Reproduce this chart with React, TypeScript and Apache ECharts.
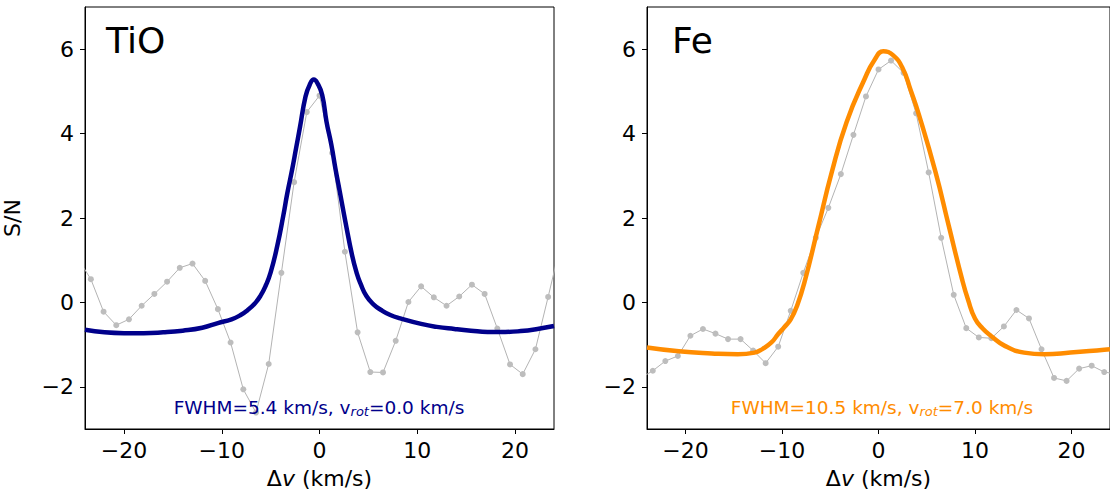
import React, { useEffect, useRef } from "react";
import * as echarts from "echarts";

// Gray data (velocity grid, S/N)
const tioV = [-24.7, -23.4, -22.1, -20.8, -19.5, -18.2, -16.9, -15.6, -14.3, -13.0, -11.7, -10.4, -9.1, -7.8, -6.5, -5.2, -3.9, -2.6, -1.3, 0.0, 1.3, 2.6, 3.9, 5.2, 6.5, 7.8, 9.1, 10.4, 11.7, 13.0, 14.3, 15.6, 16.9, 18.2, 19.5, 20.8, 22.1, 23.4, 24.7];
const tioSN = [1.03, 0.55, -0.22, -0.54, -0.40, -0.08, 0.20, 0.49, 0.82, 0.92, 0.51, -0.16, -0.95, -2.06, -2.61, -1.46, 0.70, 2.85, 4.51, 4.90, 3.54, 1.20, -0.71, -1.65, -1.66, -0.91, 0.01, 0.38, 0.12, -0.08, 0.14, 0.42, 0.20, -0.62, -1.47, -1.70, -1.11, 0.13, 1.40];
const feV = tioV;
const feSN = [-1.80, -1.62, -1.39, -1.27, -0.79, -0.63, -0.74, -0.87, -0.87, -1.14, -1.44, -1.05, -0.20, 0.70, 1.53, 2.24, 3.04, 3.97, 4.88, 5.52, 5.73, 5.44, 4.48, 3.08, 1.53, 0.18, -0.61, -0.83, -0.85, -0.57, -0.18, -0.38, -1.11, -1.79, -1.86, -1.57, -1.50, -1.65, -1.70];

// Fitted model curves
const tioFitV = [-24, -22, -20, -18, -16, -14, -12, -10.4, -9, -8.07, -7.39, -6.6, -6.03, -5.5, -5.0, -4.32, -3.71, -3.3, -2.8, -2.4, -2.0, -1.43, -1.0, -0.58, -0.2, 0.27, 0.72, 1.2, 1.63, 2.08, 2.66, 3.34, 3.8, 4.19, 4.8, 5.55, 6.3, 7.25, 8.27, 10.4, 12, 13.8, 15.5, 17.2, 19, 20.6, 22.3, 24];
const tioFitSN = [-0.65, -0.71, -0.73, -0.73, -0.71, -0.67, -0.60, -0.49, -0.40, -0.30, -0.19, -0.02, 0.16, 0.40, 0.71, 1.34, 2.05, 2.58, 3.15, 3.65, 4.15, 4.88, 5.16, 5.28, 5.19, 4.92, 4.28, 3.75, 3.17, 2.62, 1.90, 1.11, 0.70, 0.45, 0.15, -0.05, -0.18, -0.30, -0.38, -0.51, -0.58, -0.63, -0.67, -0.70, -0.70, -0.68, -0.63, -0.56];
const feFitV = [-24, -20.7, -17.3, -14.6, -12.85, -12.0, -11.1, -10.4, -9.77, -9.1, -8.44, -7.59, -6.22, -4.85, -3.31, -1.43, -0.4, 0.5, 1.5, 2.5, 3.3, 4.21, 5.92, 7.28, 8.66, 9.3, 10.0, 10.8, 11.7, 13.1, 15.1, 17.2, 19.9, 23.4, 24];
const feFitSN = [-1.07, -1.16, -1.21, -1.23, -1.19, -1.10, -0.95, -0.75, -0.59, -0.40, -0.08, 0.55, 1.82, 3.08, 4.27, 5.30, 5.75, 5.95, 5.86, 5.55, 5.05, 4.43, 3.08, 1.82, 0.55, 0.05, -0.38, -0.62, -0.80, -1.03, -1.19, -1.23, -1.19, -1.12, -1.11];

const yTicks = [-2, 0, 2, 4, 6];
const xTicks = [-20, -10, 0, 10, 20];

const panels = [
  { name: "TiO", color: "#00008b", fwhm: "5.4", vrot: "0.0" },
  { name: "Fe", color: "#ff8c00", fwhm: "10.5", vrot: "7.0" },
];

const FONT = "DejaVu Sans, sans-serif";
const FS = 22;
const fmtMinus = (v: number) => String(v).replace("-", "\u2212");

export default function App() {
  const ref = useRef<HTMLDivElement>(null);
  useEffect(() => {
    if (!ref.current) return;
    const chart = echarts.init(ref.current, null, { renderer: "svg" });
    const grids = [
      { left: 84, top: 7, width: 470, height: 422 },
      { left: 647, top: 7, width: 469, height: 422 },
    ];
    const xAxis = grids.map((_, i) => ({
      type: "value",
      gridIndex: i,
      min: -24,
      max: 24,
      name: "{a|\u0394}{i|v}{a| (km/s)}",
      nameLocation: "middle",
      nameGap: 38,
      nameTextStyle: {
        rich: {
          a: { fontFamily: FONT, fontSize: FS, color: "#000" },
          i: { fontFamily: FONT, fontSize: FS, fontStyle: "italic", color: "#000" },
        },
      },
      axisLine: { show: true, onZero: false, lineStyle: { color: "#000", width: 1 } },
      axisTick: { show: true, inside: false, length: 5, customValues: xTicks, lineStyle: { color: "#000" } },
      axisLabel: { show: true, customValues: xTicks, margin: 10, fontFamily: FONT, fontSize: FS, color: "#000", formatter: fmtMinus },
      splitLine: { show: false },
    }));
    const yAxis = grids.map((_, i) => ({
      type: "value",
      gridIndex: i,
      min: -3,
      max: 7,
      name: i === 0 ? "S/N" : "",
      nameLocation: "middle",
      nameGap: 62,
      nameTextStyle: { fontFamily: FONT, fontSize: FS, color: "#000" },
      axisLine: { show: true, onZero: false, lineStyle: { color: "#000", width: 1 } },
      axisTick: { show: true, inside: false, length: 5, customValues: yTicks, lineStyle: { color: "#000" } },
      axisLabel: { show: true, customValues: yTicks, margin: 11, fontFamily: FONT, fontSize: FS, color: "#000", formatter: fmtMinus },
      splitLine: { show: false },
    }));
    const gray = "#bdbdbd";
    const series: any[] = [];
    const dataSets = [
      { v: tioV, sn: tioSN, fv: tioFitV, fsn: tioFitSN },
      { v: feV, sn: feSN, fv: feFitV, fsn: feFitSN },
    ];
    dataSets.forEach((d, i) => {
      series.push({
        type: "line",
        xAxisIndex: i,
        yAxisIndex: i,
        data: d.v.map((x, k) => [x, d.sn[k]]),
        symbol: "circle",
        symbolSize: 6,
        showSymbol: true,
        itemStyle: { color: gray },
        lineStyle: { color: "#b3b3b3", width: 1 },
        z: 2,
        clip: true,
      });
      series.push({
        type: "line",
        xAxisIndex: i,
        yAxisIndex: i,
        data: d.fv.map((x, k) => [x, d.fsn[k]]),
        showSymbol: false,
        symbol: "none",
        smooth: 0.5,
        lineStyle: { color: panels[i].color, width: 4.5 },
        z: 3,
        clip: true,
      });
    });
    const graphic: any[] = [];
    const titlePos = [
      { x: 106, y: 40 },
      { x: 672, y: 40 },
    ];
    const annCenter = [319, 882];
    panels.forEach((p, i) => {
      graphic.push({
        type: "text",
        x: titlePos[i].x,
        y: titlePos[i].y,
        style: { text: p.name, fontFamily: FONT, fontSize: 36, fill: "#000", verticalAlign: "middle", align: "left" },
        z: 10,
      });
      graphic.push({
        type: "text",
        x: annCenter[i],
        y: 407,
        style: {
          text: `{a|FWHM=${p.fwhm} km/s, v}{s|rot}{a|=${p.vrot} km/s}`,
          align: "center",
          verticalAlign: "middle",
          rich: {
            a: { fontFamily: FONT, fontSize: 18.5, fill: p.color, lineHeight: 22, verticalAlign: "middle" },
            s: { fontFamily: FONT, fontSize: 13, fontStyle: "italic", fill: p.color, lineHeight: 22, verticalAlign: "bottom", padding: [10, 0, 0, 0] },
          },
        },
        z: 10,
      });
    });
    chart.setOption({
      animation: false,
      backgroundColor: "#fff",
      grid: grids.map((g) => ({ ...g, show: true, borderColor: "#000", borderWidth: 1, backgroundColor: "transparent" })),
      xAxis,
      yAxis,
      series,
      graphic,
    } as any);
    return () => chart.dispose();
  }, []);
  return <div ref={ref} style={{ position: "absolute", left: 0, top: 0, width: 1110, height: 496 }} />;
}
